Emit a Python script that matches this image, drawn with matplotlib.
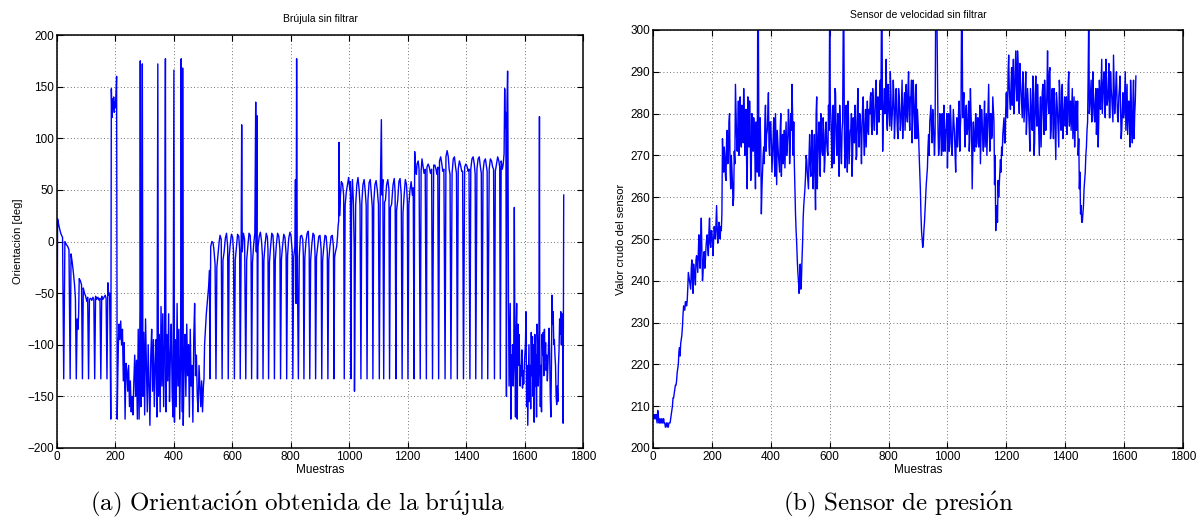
import numpy as np
import matplotlib
matplotlib.use("Agg")
import matplotlib.pyplot as plt

plt.rcParams["mathtext.fontset"] = "cm"

# ---------------- data: compass (left) ----------------
brujula_x = [
    2, 6, 10, 14, 19, 27, 32, 37, 41, 48, 52, 56, 60, 63, 69, 72, 74, 76, 80, 84, 90, 94, 98, 102, 105,
    111, 115, 119, 123, 126, 132, 136, 140, 144, 147, 153, 157, 161, 165, 168, 174, 177, 180, 182, 184,
    186, 188, 190, 192, 194, 196, 198, 200, 202, 204, 206, 208, 210,
    212, 215, 218, 221, 224, 227, 230, 233, 236, 239, 242, 245, 248, 251, 254, 257, 260, 263, 266, 269,
    272, 275, 278, 281, 284, 285, 287, 290, 292, 294, 297, 300, 303, 306, 309, 312, 315, 318, 321, 324,
    327, 330, 333, 336, 339, 342, 345, 347, 350, 353, 356, 359, 362, 365, 368, 371, 373, 376, 379, 382,
    385, 388, 391, 394, 397, 400, 402, 405, 408, 411, 414, 417, 420, 423, 425, 427, 429, 430, 432, 435,
    438, 441, 444, 447, 450, 453, 456, 459, 462, 465, 468, 471, 474, 477, 480, 483, 486, 489, 492, 495,
    498, 501, 505, 508, 511, 514, 517, 520, 522,
    526, 530, 534, 537, 541, 547, 551, 555, 558, 562, 568, 572, 576, 580, 584, 589, 593, 597, 601, 604,
    610, 614, 618, 622, 625, 630, 632, 634, 638, 642, 649, 653, 657, 661, 664, 669, 673, 677, 680, 682,
    684, 688, 692, 696, 700, 703, 708, 712, 716, 720, 722, 727, 731, 735, 739, 742, 747, 751, 755, 759,
    763, 768, 772, 776, 780, 784, 789, 793, 797, 801, 805, 810, 814, 816, 818, 820, 822, 829, 833, 837,
    841, 843, 848, 852, 856, 860, 863, 868, 872, 876, 880, 883, 888, 892, 896, 900, 904, 909, 913, 917,
    921, 925, 930, 934, 938, 942, 946, 950, 953, 957, 960, 962, 964, 965, 967, 970, 973, 977,
    981, 986, 990, 994, 998, 1002, 1004, 1008, 1011, 1014, 1017, 1018, 1022, 1026, 1030, 1034, 1037,
    1043, 1047, 1051, 1055, 1058, 1064, 1068, 1072, 1076, 1079, 1084, 1088, 1092, 1096, 1100, 1106,
    1110, 1112, 1115, 1121, 1124, 1128, 1132, 1136, 1141, 1145, 1150, 1154, 1157, 1162, 1166, 1170,
    1174, 1178, 1184, 1188, 1192, 1196, 1199, 1204, 1208, 1212, 1216, 1219, 1224, 1227, 1230,
    1232, 1236, 1239, 1246, 1249, 1253, 1256, 1260, 1266, 1270, 1274, 1278, 1282, 1289, 1293, 1297,
    1300, 1303, 1309, 1313, 1317, 1320, 1324, 1331, 1335, 1339, 1342, 1345, 1352, 1356, 1360, 1364,
    1367, 1373, 1377, 1381, 1385, 1388, 1395, 1399, 1403, 1407, 1410, 1416, 1420, 1424, 1428, 1431,
    1437, 1441, 1445, 1449, 1452, 1458, 1462, 1466, 1470, 1472, 1479, 1483, 1487, 1491, 1494, 1500,
    1504, 1508, 1512, 1515, 1520, 1524, 1527, 1530, 1532, 1534, 1536, 1538, 1540, 1542, 1543,
    1545, 1547, 1549, 1551, 1553, 1555, 1557, 1559, 1561, 1563, 1565, 1567, 1569, 1571, 1573, 1575,
    1577, 1579, 1581, 1583, 1585, 1587, 1589, 1591, 1593, 1595, 1597, 1600, 1603, 1605, 1607, 1609,
    1611, 1613, 1615, 1617, 1619, 1621, 1623, 1625, 1627, 1629, 1631, 1633, 1635, 1637, 1639, 1641,
    1643, 1645, 1647, 1649, 1651, 1652, 1654, 1656, 1658, 1660, 1662, 1664, 1666, 1668, 1670, 1672,
    1674, 1676, 1678, 1680, 1682, 1684, 1686, 1688, 1690, 1692, 1694, 1696, 1698, 1700, 1702, 1704,
    1706, 1708, 1710, 1712, 1714, 1716, 1718, 1720, 1722, 1724, 1726, 1728, 1730, 1732, 1734,
]
brujula_y = [
    22, 16, 11, 7, 4, 0, -3, -5, -8, -12, -20, -30, -42, -55, -75, -85, -70, -36, -38, -42, -45, -50, -53, -58, -54,
    -56, -55, -57, -54, -56, -53, -56, -54, -57, -55, -53, -56, -54, -52, -55, -40, -52, -50, -100, -172,
    148, 120, 138, 128, 140, 125, 135, 130, 143, 160, -172, -130, -100,
    -80, -95, -77, -100, -85, -135, -98, -172, -118, -125, -145, -120, -160, -135, -165, -150, -168, -135, -110, -150,
    -115, -172, -85, -172, -65, 175, -160, -100, 172, -150, -88, -168, -75, -120, -165, -100, -140, -178, -110, -85,
    -145, -95, -160, -120, -95, -170, 172, -150, -90, -165, -63, -140, -70, -160, -100, 177, -165, -90, -135, -70,
    -155, -110, -80, -145, -170, 166, -175, -95, -160, -60, -140, -85, -172, -110, 177, -65, -165, 168, -178, -120,
    -90, -150, -80, -130, -100, -170, -85, -140, -120, -175, -95, -60, -130, -110, -150, -165, -120, -140, -160, -135,
    -165, -140, -100, -85, -70, -60, -50, -40, -28,
    -5, 0, -1, -8, -22, -25, -12, 0, 6, 2, -18, -10, 3, 8, -5, -15, -2, 7, 4, -10,
    -18, -5, 7, 5, -8, -15, 113, -10, 8, 2, -18, -5, 8, 6, -12, -20, -3, 8, 135, -10,
    122, -5, 5, 9, 0, -14, -18, -3, 8, 4, -8, -20, -5, 8, 6, -10, -18, -2, 8, 5,
    -8, -17, -4, 7, 4, -12, -14, 3, 9, 5, -10, -15, -5, 60, -60, 177, -5, -15, 5, 6,
    2, -14, -16, 0, 8, 10, -8, -18, -3, 8, 6, -12, -15, -5, 5, 6, -8, -18, -5, 6,
    5, -10, -18, -5, 5, 6, -5, -15, -10, -5, 5, 15, 20, 96, 25, 45, 58, 56,
    45, 35, 48, 55, 62, 50, 58, 35, 60, 40, -5, -145, 35, 55, 62, 50, 35,
    37, 55, 60, 48, 35, 40, 57, 60, 45, 33, 38, 55, 59, 50, 36, 42,
    118, 45, 60, 38, 40, 55, 60, 50, 33, 36, 55, 61, 48, 30, 40, 58,
    61, 45, 28, 45, 60, 55, 38, 35, 50, 58, 45, 52, 87, 70, 65,
    75, 78, 70, 68, 80, 72, 66, 70, 72, 75, 72, 66, 70, 74, 74, 70,
    65, 72, 78, 82, 75, 68, 70, 82, 88, 82, 70, 65, 66, 80, 82, 72,
    66, 70, 78, 74, 68, 68, 72, 75, 73, 68, 70, 70, 80, 82, 75, 65,
    70, 80, 82, 72, 66, 68, 78, 80, 72, 68, 70, 80, 78, 72, 70, 68,
    75, 82, 78, 72, 78, 70, 75, 85, 148, 110, 125, -150, 135, 165, 120,
    -55, -140, -100, -60, -172, -110, -130, -100, -140, -118, 33, -110, -170, -90, -60, -172,
    -80, -120, -90, -110, -140, -120, -130, -105, -142, -125, -138, -115, -100, -68, -160, -120,
    -178, -140, -100, -155, -120, -162, -88, -130, -92, -150, -100, -175, -90, -140, -110, -170,
    -80, -100, -140, -120, 121, -100, -160, -120, -165, -90, -110, -88, -130, -85, -115, -98,
    -125, -110, -135, -120, -100, -84, -110, -150, -170, -120, -52, -80, -68, -100, -95, -110,
    -120, -150, -158, -140, -155, -120, -105, -75, -90, -68, -100, -70, -85, -176, 45,
]
# samples where the heading wraps to the fixed error value
picos_x = [0, 23, 45, 66, 87, 108, 129, 150, 171, 503,
           523, 544, 565, 586, 607, 627, 646, 666, 686, 705, 724, 744, 765, 786, 807,
           826, 845, 865, 885, 906, 927, 948, 983, 1006, 1040, 1061, 1081, 1103, 1118,
           1138, 1160, 1181, 1201, 1222, 1243, 1264, 1285, 1306, 1328, 1348, 1370, 1391,
           1413, 1433, 1454, 1474, 1497, 1517]
valor_pico = -133

# ---------------- data: speed sensor (right) ----------------
# samples 0, 4, 8, ... 1640
velocidad = [
    207, 208, 207, 207, 209, 206, 207, 206, 206, 207, 206, 205, 206, 205, 206, 207, 209, 212, 213, 215, 216, 219, 223, 222, 226,
    229, 234, 233, 235, 235, 242, 240, 238, 245, 237, 242, 239, 246, 242, 251, 243, 255, 240, 246, 243, 248, 251, 246, 255, 248,
    252, 246, 253, 250, 258, 249, 254, 250, 252, 274, 266, 270, 264, 276, 270, 280, 262, 267, 258, 271, 287, 274, 276, 270, 284,
    272, 278, 286, 270, 281, 262, 279, 283, 264, 280, 271, 276, 262, 268, 312, 265, 279, 256, 266, 272, 278, 271, 276, 285, 270,
    278, 266, 274, 269, 280, 263, 273, 268, 276, 265, 275, 270, 267, 278, 272, 281, 268, 280, 287, 270, 268, 256, 249, 242, 237,
    244, 240, 249, 258, 262, 270, 266, 262, 275, 265, 276, 262, 275, 257, 284, 270, 278, 265, 276, 270, 275, 269, 278, 271, 282,
    305, 279, 267, 282, 272, 285, 270, 280, 265, 277, 268, 278, 305, 267, 282, 266, 279, 272, 276, 265, 279, 273, 278, 270, 286,
    272, 279, 268, 282, 274, 277, 272, 283, 275, 280, 285, 275, 283, 276, 286, 275, 284, 278, 288, 305, 271, 282, 280, 293, 276,
    283, 277, 285, 279, 288, 274, 283, 280, 274, 284, 276, 283, 274, 282, 276, 287, 278, 290, 276, 284, 273, 288, 279, 285, 274,
    278, 270, 262, 252, 248, 252, 257, 263, 267, 275, 278, 282, 273, 278, 270, 305, 305, 276, 272, 279, 270, 275, 282, 271, 276,
    267, 280, 273, 278, 270, 281, 275, 266, 279, 274, 283, 277, 305, 279, 285, 272, 282, 276, 283, 274, 280, 262, 278, 271, 280,
    273, 279, 276, 268, 281, 274, 278, 272, 280, 276, 287, 271, 280, 275, 281, 263, 252, 257, 264, 263, 269, 272, 275, 279, 273,
    285, 279, 294, 283, 287, 282, 293, 284, 295, 283, 292, 280, 288, 282, 290, 278, 284, 275, 286, 280, 271, 282, 276, 285, 273,
    289, 277, 282, 270, 284, 278, 287, 275, 283, 279, 295, 280, 291, 276, 286, 274, 282, 269, 283, 276, 288, 278, 283, 274, 281,
    277, 284, 278, 290, 280, 276, 286, 279, 272, 283, 277, 270, 262, 256, 254, 256, 262, 266, 272, 278, 305, 282, 288, 279, 284,
    278, 286, 280, 272, 288, 281, 293, 284, 290, 279, 288, 283, 292, 279, 286, 281, 294, 280, 287, 283, 278, 286, 281, 276, 285,
    280, 290, 282, 275, 283, 272, 283, 273, 288, 280, 289,
]
# samples 2, 6, 10, ... 1638
velocidad_intermedia = [
    207, 207, 208, 206, 208, 206, 206, 207, 206, 206, 205, 206, 205, 206, 206, 208, 210, 212, 214, 215, 218, 220, 224, 225, 227,
    232, 233, 235, 234, 238, 241, 239, 243, 240, 244, 241, 245, 244, 247, 245, 250, 248, 242, 247, 245, 250, 248, 252, 249, 252,
    249, 250, 251, 254, 252, 252, 251, 253, 256, 268, 272, 265, 274, 268, 278, 266, 270, 263, 260, 268, 280, 271, 283, 273, 276,
    282, 273, 279, 275, 268, 284, 272, 277, 268, 276, 279, 270, 278, 266, 300, 276, 272, 262, 270, 268, 282, 275, 280, 272, 278,
    273, 270, 279, 265, 272, 276, 270, 266, 280, 271, 268, 276, 273, 270, 275, 278, 272, 276, 280, 278, 262, 252, 245, 240, 239,
    238, 245, 255, 260, 265, 269, 264, 270, 268, 272, 268, 270, 265, 280, 262, 275, 268, 280, 271, 279, 266, 276, 273, 270, 276,
    283, 274, 280, 268, 286, 275, 276, 270, 282, 271, 276, 300, 274, 270, 276, 283, 268, 276, 280, 270, 275, 282, 269, 281, 276,
    280, 275, 277, 284, 270, 281, 278, 276, 281, 284, 277, 286, 278, 281, 288, 280, 278, 286, 281, 300, 279, 286, 284, 278, 287,
    280, 290, 276, 282, 284, 278, 286, 276, 286, 280, 278, 288, 279, 285, 282, 280, 286, 280, 284, 288, 278, 283, 274, 287, 281,
    275, 266, 256, 250, 249, 254, 260, 265, 272, 270, 280, 276, 281, 274, 275, 300, 290, 270, 280, 274, 280, 271, 278, 276, 280,
    275, 271, 282, 272, 276, 278, 270, 276, 272, 281, 271, 280, 300, 283, 276, 280, 275, 279, 271, 286, 276, 270, 274, 276, 272,
    279, 272, 282, 274, 278, 271, 283, 276, 270, 283, 277, 280, 274, 284, 278, 270, 258, 254, 260, 266, 266, 270, 277, 273, 281,
    280, 290, 286, 281, 291, 286, 280, 290, 287, 295, 284, 292, 285, 279, 287, 281, 290, 279, 283, 276, 286, 278, 289, 270, 284,
    280, 287, 276, 280, 272, 285, 280, 288, 276, 286, 283, 290, 274, 284, 279, 286, 276, 285, 280, 272, 285, 276, 287, 279, 284,
    282, 275, 287, 277, 283, 281, 274, 284, 280, 276, 283, 274, 266, 258, 254, 258, 264, 270, 276, 290, 280, 285, 278, 290, 280,
    283, 275, 286, 279, 284, 287, 280, 288, 282, 293, 282, 286, 279, 290, 284, 278, 287, 283, 290, 279, 284, 289, 274, 281, 279,
    285, 276, 287, 279, 280, 288, 276, 283, 274, 283,
]
paso_velocidad = 4

# ---------------- figure ----------------
W, H = 1197, 520
fig = plt.figure(figsize=(W / 100, H / 100), dpi=100)

sans = ["Liberation Sans", "DejaVu Sans"]
tick_fs = 8.5
lab_fs = 7.5


def style(ax):
    ax.tick_params(direction="in", top=True, right=True, length=4, width=0.8,
                   labelsize=tick_fs, pad=2)
    for lab in ax.get_xticklabels() + ax.get_yticklabels():
        lab.set_fontfamily(sans)
    for s in ax.spines.values():
        s.set_linewidth(1.1)
    ax.grid(True, linestyle=(0, (1, 3)), color="#444444", linewidth=0.6)


def px_axes(l, r, t, b):
    return fig.add_axes([l / W, 1 - b / H, (r - l) / W, (b - t) / H])


# left
ax1 = px_axes(57, 583, 35, 448)
xs = np.array(brujula_x + picos_x, dtype=float)
ys = np.array(brujula_y + [valor_pico] * len(picos_x), dtype=float)
order = np.argsort(xs, kind="stable")
ax1.plot(xs[order], ys[order], color="#0000ff", linewidth=1.0)
ax1.set_xlim(0, 1800)
ax1.set_ylim(-200, 200)
ax1.set_xticks(np.arange(0, 1801, 200))
ax1.set_yticks(np.arange(-200, 201, 50))
style(ax1)
ax1.set_title("Brújula sin filtrar", fontsize=lab_fs, family=sans, pad=9)
ax1.set_xlabel("Muestras", fontsize=lab_fs + 1, family=sans, labelpad=1)
ax1.set_ylabel("Orientación [deg]", fontsize=lab_fs + 0.5, family=sans, labelpad=3)

# right
ax2 = px_axes(653, 1183, 30, 448)
xv = np.concatenate([np.arange(len(velocidad)) * paso_velocidad,
                     np.arange(len(velocidad_intermedia)) * paso_velocidad + paso_velocidad // 2])
yv = np.array(velocidad + velocidad_intermedia, dtype=float)
ov = np.argsort(xv, kind="stable")
ax2.plot(xv[ov], yv[ov], color="#0000ff", linewidth=1.0)
ax2.set_xlim(0, 1800)
ax2.set_ylim(200, 300)
ax2.set_xticks(np.arange(0, 1801, 200))
ax2.set_yticks(np.arange(200, 301, 10))
style(ax2)
ax2.set_title("Sensor de velocidad sin filtrar", fontsize=lab_fs, family=sans, pad=9)
ax2.set_xlabel("Muestras", fontsize=lab_fs + 1, family=sans, labelpad=1)
ax2.set_ylabel("Valor crudo del sensor", fontsize=lab_fs + 0.5, family=sans, labelpad=3)

fig.text(298 / W, 1 - 504 / H,
         r"$\mathrm{(a)\ Orientaci\acute{o}n\ obtenida\ de\ la\ br\acute{u}jula}$",
         ha="center", va="center", fontsize=18)
fig.text(898 / W, 1 - 504 / H,
         r"$\mathrm{(b)\ Sensor\ de\ presi\acute{o}n}$",
         ha="center", va="center", fontsize=18)

fig.savefig("out.png", dpi=100)
